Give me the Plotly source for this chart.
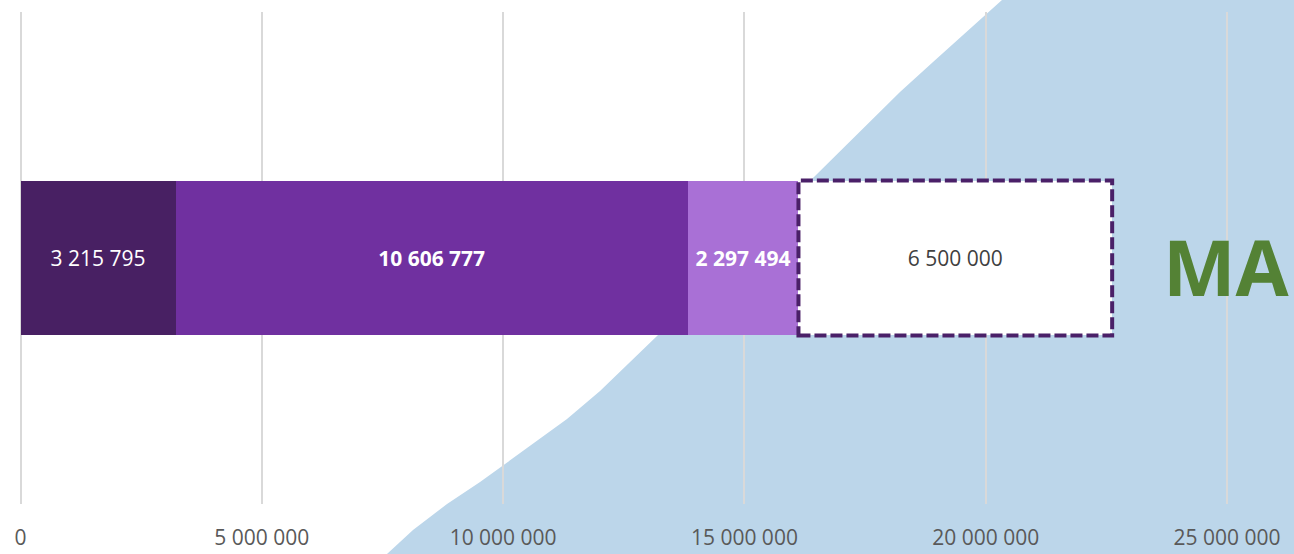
import plotly.graph_objects as go

categories = ["MA"]
seg_values = [3215795, 10606777, 2297494, 6500000]
seg_labels = ["3 215 795", "10 606 777", "2 297 494", "6 500 000"]
seg_colors = ["#482063", "#7030A0", "#A970D6", "#FFFFFF"]
seg_text_colors = ["#FFFFFF", "#FFFFFF", "#FFFFFF", "#404040"]
seg_text_bold = [False, True, True, False]
tick_values = [0, 5000000, 10000000, 15000000, 20000000, 25000000]
tick_labels = ["0", "5 000 000", "10 000 000", "15 000 000", "20 000 000", "25 000 000"]
x_range = [-424800, 26388000]
# Backdrop silhouette (value axis, height axis 0-554)
backdrop_x = [7594000, 8133000, 8838000, 9522000, 10040000, 10620000, 11324000, 12008000, 12692000,
              13189000, 16421000, 16836000, 17540000, 18224000, 18908000, 19613000,
              20337000, 26388000, 26388000]
backdrop_h = [0, 24, 50, 72, 90, 110, 135, 163, 195, 218, 376, 396, 429, 462, 492, 523, 554, 554, 0]

fig = go.Figure()
fig.add_trace(go.Scatter(x=backdrop_x, y=backdrop_h, mode="lines", fill="toself",
                         fillcolor="#BCD6EA", line=dict(width=0), hoverinfo="skip",
                         showlegend=False, xaxis="x", yaxis="y"))

for v, t, c, tc, b in zip(seg_values, seg_labels, seg_colors, seg_text_colors, seg_text_bold):
    fig.add_trace(go.Bar(y=categories, x=[v], orientation="h", text=[f"<b>{t}</b>" if b else t],
                         textposition="inside", insidetextanchor="middle", textangle=0,
                         constraintext="none", cliponaxis=False,
                         textfont=dict(color=tc, size=21, family="Open Sans"),
                         marker=dict(color=c, line=dict(width=0)),
                         showlegend=False, xaxis="x2", yaxis="y2"))

total = sum(seg_values)
known = sum(seg_values[:3])

fig.add_shape(type="rect", xref="x2", yref="y2", x0=known, x1=total, y0=-0.1575, y1=0.1575,
              line=dict(color="#4A2068", width=4, dash="12px,4px"), fillcolor="rgba(0,0,0,0)",
              layer="above")

fig.add_annotation(x=tick_values[5] - 20000, y=categories[0], xref="x2", yref="y2", text="<b>MA</b>",
                   showarrow=False, yshift=-8, xanchor="center", yanchor="middle",
                   font=dict(size=77, color="#548235", family="Open Sans"))

fig.update_layout(
    width=1294, height=554, margin=dict(l=0, r=0, t=0, b=0), autosize=False,
    paper_bgcolor="white", plot_bgcolor="rgba(0,0,0,0)", barmode="stack", bargap=0.685,
    font=dict(family="Open Sans", color="#595959"),
    xaxis=dict(domain=[0, 1], range=x_range, visible=False, fixedrange=True),
    yaxis=dict(domain=[0, 1], range=[0, 554], visible=False, fixedrange=True),
    xaxis2=dict(domain=[0, 1], range=x_range, anchor="y2", tickvals=tick_values, ticktext=tick_labels,
                showgrid=True, gridcolor="#D9D9D9", gridwidth=2, zeroline=False, showline=False,
                ticks="outside", ticklen=15, tickcolor="rgba(0,0,0,0)",
                tickfont=dict(size=21, color="#595959", family="Open Sans"), fixedrange=True),
    yaxis2=dict(domain=[50 / 554, 542 / 554], anchor="x2", type="category", visible=False, fixedrange=True),
)

fig.write_html("out.html", config={"displayModeBar": False},
               post_script="document.body.style.margin='0';document.body.style.overflow='hidden';")
